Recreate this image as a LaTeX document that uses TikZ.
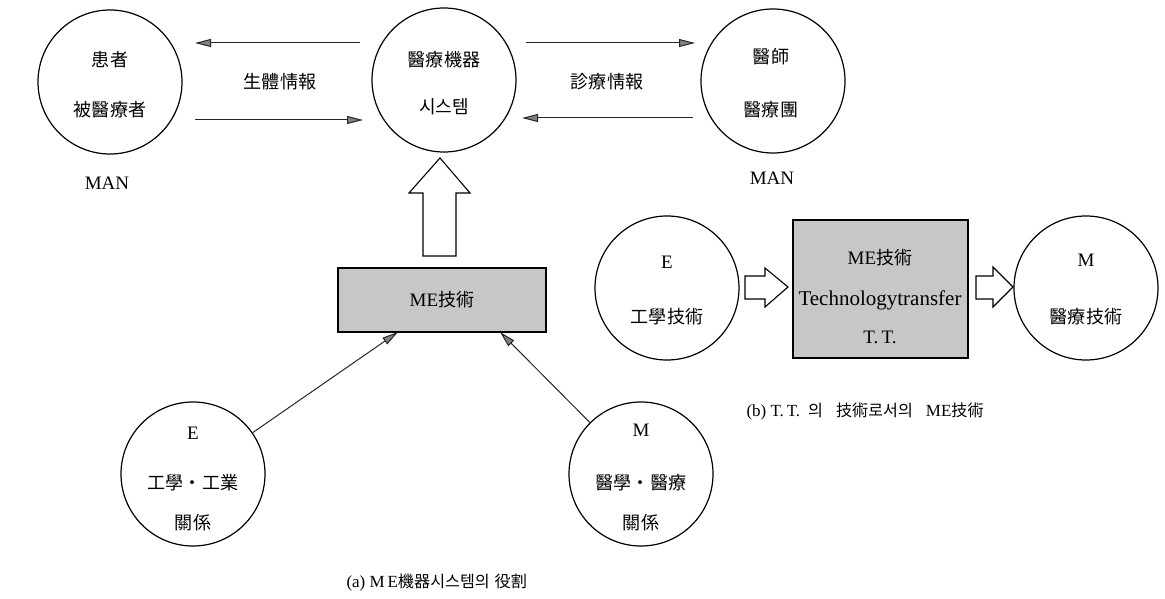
\documentclass[tikz,border=0pt]{standalone}
\usepackage{fontspec}
\setmainfont{Liberation Serif}
\newfontfamily\cjk{Noto Sans CJK KR}[Scale=0.95]
\usetikzlibrary{arrows.meta}

\begin{document}
\begin{tikzpicture}[x=1pt,y=-1pt,
    circ/.style={draw,circle,line width=1.2pt,minimum size=144pt,inner sep=0pt},
    box/.style={draw,line width=1.2pt,fill=black!22,inner sep=0pt},
    txt/.style={font=\fontsize{19}{22}\selectfont},
    captxt/.style={font=\fontsize{17}{20}\selectfont},
    arr/.style={line width=1pt,draw=black!85,-{Triangle[length=16pt,width=8pt,fill=black!50]}},
    blk/.style={line width=1.1pt,fill=white}]
  \useasboundingbox (0,0) rectangle (1165,599);

  % (a) top row: MAN - system - MAN
  \node[circ] (pat) at (110,82) {};
  \node[circ] (dev) at (444,80) {};
  \node[circ] (doc) at (773,81) {};

  \node[txt] (patA) at (110,60)  {\cjk 患者};
  \node[txt] (patB) at (110,110) {\cjk 被醫療者};
  \node[txt] (devA) at (444,60)  {\cjk 醫療機器};
  \node[txt] (devB) at (444,107) {\cjk 시스템};
  \node[txt] (docA) at (771,57)  {\cjk 醫師};
  \node[txt] (docB) at (771,110) {\cjk 醫療團};
  \node[txt] (manL) at (107,183) {MAN};
  \node[txt] (manR) at (772,178) {MAN};

  % information flows
  \coordinate (f1a) at (360,43);  \coordinate (f1b) at (195,43);
  \coordinate (f2a) at (195,120); \coordinate (f2b) at (363,120);
  \coordinate (f3a) at (526,43);  \coordinate (f3b) at (695,43);
  \coordinate (f4a) at (693,118); \coordinate (f4b) at (522,118);
  \draw[arr] (f1a) -- (f1b);
  \draw[arr] (f2a) -- (f2b);
  \draw[arr] (f3a) -- (f3b);
  \draw[arr] (f4a) -- (f4b);
  \node[txt] (bio) at (280,82) {\cjk 生體情報};
  \node[txt] (dia) at (607,82) {\cjk 診療情報};

  % ME box and the big arrow up
  \node[box,minimum width=208pt,minimum height=64pt,txt] (me) at (442,300) {ME{\cjk 技術}};
  \draw[blk] (423,256) -- (423,193) -- (409,193) -- (440,158) -- (470,193)
             -- (456,193) -- (456,256) -- cycle;

  % E and M below
  \node[circ] (eng) at (193,474) {};
  \node[circ] (med) at (641,474) {};
  \node[txt] (engA) at (193,433) {E};
  \node[txt] (engB) at (193,483) {\cjk 工學・工業};
  \node[txt] (engC) at (193,523) {\cjk 關係};
  \node[txt] (medA) at (641,430) {M};
  \node[txt] (medB) at (641,483) {\cjk 醫學・醫療};
  \node[txt] (medC) at (641,523) {\cjk 關係};

  \coordinate (in1) at (398,332);
  \coordinate (in2) at (500,332);
  \draw[arr] (eng) -- (in1);
  \draw[arr] (med) -- (in2);

  \node[captxt,anchor=west] (capA) at (343,583) {(a) M\,E{\cjk 機器시스템의\hspace{5pt}役割}};

  % (b) technology transfer
  \node[circ] (te) at (667,288) {};
  \node[box,minimum width=175pt,minimum height=138pt] (tt) at (880.5,289) {};
  \node[circ] (tm) at (1086,288) {};

  \node[txt] (teA) at (667,262) {E};
  \node[txt] (teB) at (667,317) {\cjk 工學技術};
  \node[txt] (ttA) at (880,258) {ME{\cjk 技術}};
  \node[font=\fontsize{21}{24}\selectfont] (ttB) at (880,300) {Technologytransfer};
  \node[txt] (ttC) at (880,337) {T.\,T.};
  \node[txt] (tmA) at (1086,260) {M};
  \node[txt] (tmB) at (1086,317) {\cjk 醫療技術};

  \draw[blk] (745,276) -- (765,276) -- (765,268) -- (788,287) -- (765,307)
             -- (765,299) -- (745,299) -- cycle;
  \draw[blk] (976,276) -- (993,276) -- (993,267) -- (1013,287) -- (993,307)
             -- (993,299) -- (976,299) -- cycle;

  \node[captxt,anchor=west] (capB) at (743,412)
    {(b) T.\,T.\hspace{8pt}{\cjk 의\hspace{13pt}技術로서의}\hspace{13pt}ME{\cjk 技術}};
\end{tikzpicture}
\end{document}
